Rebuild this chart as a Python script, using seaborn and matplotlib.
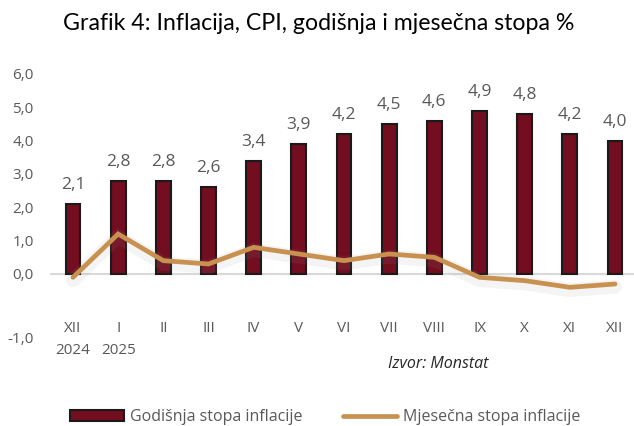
import matplotlib
matplotlib.use("Agg")
import matplotlib.pyplot as plt
import matplotlib.patheffects as pe
from matplotlib.patches import Patch
from matplotlib.lines import Line2D
import seaborn as sns
import pandas as pd
import numpy as np

months = ["XII\n2024", "I\n2025", "II", "III", "IV", "V", "VI", "VII", "VIII", "IX", "X", "XI", "XII"]
annual = [2.1, 2.8, 2.8, 2.6, 3.4, 3.9, 4.2, 4.5, 4.6, 4.9, 4.8, 4.2, 4.0]
monthly = [-0.1, 1.2, 0.4, 0.3, 0.8, 0.6, 0.4, 0.6, 0.5, -0.1, -0.2, -0.4, -0.3]
ytick_labels = ["-1,0", "0,0", "1,0", "2,0", "3,0", "4,0", "5,0", "6,0"]
series_names = ["Godišnja stopa inflacije", "Mjesečna stopa inflacije"]

df = pd.DataFrame({"month": months, "annual": annual, "monthly": monthly})

sns.set_theme(style="white")
plt.rcParams["font.family"] = ["Open Sans", "DejaVu Sans"]

BAR = "#730D20"
LINE = "#C8914F"
GRAY = "#595959"

fig = plt.figure(figsize=(6.34, 4.26), dpi=100)
ax = fig.add_axes([0.0795, 0.2042, 0.9205, 0.6261])

x = np.arange(len(months))
ax.axhline(0, color="#D9D9D9", lw=1.5, zorder=0)
sns.barplot(data=df, x="month", y="annual", color=BAR, width=0.33,
            edgecolor="#1a1a1a", linewidth=1.5, saturation=1, ax=ax, zorder=2)
ax.plot(x, df["monthly"], color=LINE, lw=3.4, zorder=3, solid_joinstyle="miter",
        path_effects=[pe.SimpleLineShadow(offset=(0, -2), shadow_color="#999999", alpha=0.10, linewidth=10),
                      pe.Normal()])

for xi, v in zip(x, annual):
    ax.annotate(f"{v:.1f}".replace(".", ","), (xi, v), xytext=(0, 8), textcoords="offset points",
                ha="center", va="bottom", fontsize=12.5, color=GRAY)

ax.set_xlim(-0.5, 12.42)
ax.set_ylim(-1.95, 6.05)
ax.set_yticks([-1.9, 0, 1, 2, 3, 4, 5, 6])
ax.set_yticklabels(ytick_labels)
ax.set_xticks(x)
ax.set_xticklabels(months, linespacing=1.6)
ax.tick_params(axis="y", length=0, pad=12, labelsize=11, labelcolor=GRAY)
ax.tick_params(axis="x", length=0, pad=-13, labelsize=11, labelcolor=GRAY)
ax.set_xlabel("")
ax.set_ylabel("")
for s in ax.spines.values():
    s.set_visible(False)
ax.grid(False)

fig.text(0.503, 0.944, "Grafik 4: Inflacija, CPI, godišnja i mjesečna stopa %", ha="center", va="center",
         fontsize=16.7, color="black", family=["Lato", "DejaVu Sans"])
fig.text(0.691, 0.145, "Izvor: Monstat", ha="center", va="center", fontsize=11.5,
         style="italic", color="#262626")

handles = [Patch(facecolor=BAR, edgecolor="#1a1a1a", linewidth=1.5),
           Line2D([0], [0], color=LINE, lw=3.4)]
fig.legend(handles, series_names,
           loc="center", bbox_to_anchor=(0.513, 0.02), ncol=2, frameon=False,
           fontsize=11.5, labelcolor=GRAY, handlelength=3.38, handleheight=0.7,
           handletextpad=0.35, columnspacing=2.55, borderaxespad=0)

fig.savefig("out.png", dpi=100)
